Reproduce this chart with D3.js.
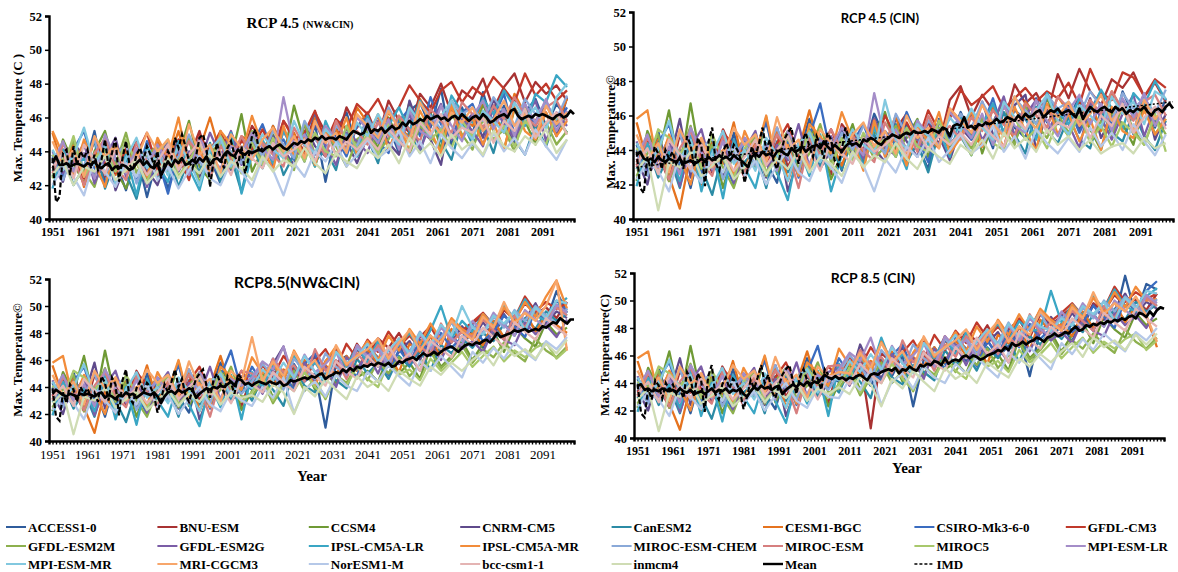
<!DOCTYPE html>
<html>
<head>
<meta charset="utf-8">
<script src="https://cdn.jsdelivr.net/npm/d3@7"></script>
<style>
  body { margin: 0; background: #fff; }
  svg text { font-family: "Liberation Serif", "Times New Roman", serif; }
</style>
</head>
<body>
<svg id="chart" width="1178" height="572"></svg>
<script>
// ---- data ----
var models = ["ACCESS1-0","BNU-ESM","CCSM4","CNRM-CM5","CanESM2","CESM1-BGC","CSIRO-Mk3-6-0","GFDL-CM3",
  "GFDL-ESM2M","GFDL-ESM2G","IPSL-CM5A-LR","IPSL-CM5A-MR","MIROC-ESM-CHEM","MIROC-ESM","MIROC5","MPI-ESM-LR",
  "MPI-ESM-MR","MRI-CGCM3","NorESM1-M","bcc-csm1-1","inmcm4"];
var colors = ["#2f5c9c","#a83232","#6f9a35","#5f4a8b","#2b8ba5","#e5731f","#3a6cc0","#c0392b",
  "#8db04e","#7b5da6","#3aa6c4","#f28c3a","#8aa9d8","#d67f7f","#a8c86c","#a48dc8",
  "#82c8df","#f7a66b","#b5c8e8","#e4b4b3","#cfdcb4"];
var tickYears = [1951,1961,1971,1981,1991,2001,2011,2021,2031,2041,2051,2061,2071,2081,2091];
var yTicks = [40,42,44,46,48,50,52];

// model values, 0.1 degC, every 3rd year: hist 1951-2005, future 2008-2098
var histYears = d3.range(1951, 2006, 3);
var futYears = d3.range(2008, 2099, 3);

var histNW = [
 [438,424,444,429,452,421,434,417,439,413,437,418,437,447,426,436,421,447,434],
 [436,441,428,445,433,425,440,432,446,427,441,429,447,436,452,431,444,450,437],
 [425,447,433,421,440,452,429,418,436,424,444,427,438,458,431,423,446,435,462],
 [431,422,445,437,426,448,417,433,440,429,420,438,446,431,425,441,434,429,447],
 [428,439,420,431,446,418,435,427,412,438,425,441,419,436,428,445,422,437,416],
 [451,430,444,419,437,448,426,440,433,421,446,434,452,427,441,460,438,432,449],
 [437,426,441,452,430,421,444,435,424,446,436,415,440,428,447,433,426,451,438],
 [430,441,436,424,448,433,427,442,438,451,429,444,437,423,449,440,452,436,446],
 [424,435,446,428,419,441,432,451,427,438,443,426,436,448,421,439,445,430,437],
 [440,427,433,445,421,436,448,425,441,419,437,446,428,440,433,451,437,452,432],
 [418,441,429,436,425,447,420,438,414,443,432,422,446,430,417,441,426,451,415],
 [452,438,426,447,433,419,444,430,439,425,448,436,460,429,441,427,452,444,438],
 [435,423,440,431,447,426,438,444,421,436,441,429,437,450,434,426,446,440,433],
 [427,444,436,420,439,447,431,423,445,434,426,440,432,446,438,424,443,435,449],
 [438,430,449,425,436,442,428,447,433,422,439,447,425,435,444,432,449,438,427],
 [433,446,428,439,424,450,436,427,442,431,444,433,441,426,448,437,430,443,439],
 [441,429,437,454,432,443,421,436,448,430,438,426,444,435,420,441,448,431,443],
 [446,432,441,425,449,437,444,428,435,451,440,447,431,456,438,444,427,450,442],
 [420,431,425,414,436,428,419,433,425,440,423,431,418,429,437,424,420,434,428],
 [430,439,424,444,435,427,441,430,437,426,434,444,429,438,446,431,439,426,443],
 [426,434,420,431,428,437,423,429,435,421,428,436,424,433,427,438,425,434,430]
];
var histCIN = [
 [443,428,451,424,440,418,446,431,425,450,428,445,433,421,449,437,458,436,444],
 [431,446,438,422,449,433,441,427,452,438,424,447,435,453,430,444,451,438,426],
 [422,451,436,463,427,467,431,445,418,439,446,430,459,426,441,434,452,447,423],
 [435,420,447,432,458,424,441,437,426,446,430,443,424,452,416,436,446,429,440],
 [429,442,424,437,418,445,430,414,439,425,433,440,418,445,427,436,450,431,442],
 [456,433,446,425,406,438,420,444,432,456,428,446,437,451,422,440,463,438,445],
 [440,429,444,455,431,452,426,442,435,420,447,439,456,431,445,424,448,467,437],
 [433,444,430,440,426,447,436,431,450,443,438,449,431,444,455,436,447,440,452],
 [425,438,449,422,436,454,429,443,430,418,438,447,425,441,451,429,438,455,433],
 [445,426,434,447,419,441,452,428,446,421,440,451,426,443,434,455,430,441,448],
 [419,444,427,439,422,448,416,440,412,446,430,418,444,427,411,442,425,449,416],
 [458,463,429,449,436,420,447,433,440,426,451,437,460,430,443,425,455,448,438],
 [438,425,443,433,450,428,441,447,423,438,444,431,439,453,436,428,449,443,435],
 [430,447,438,423,441,451,433,425,448,436,427,443,434,449,440,418,446,437,452],
 [441,432,452,447,438,445,430,449,435,424,441,449,427,436,447,433,451,440,429],
 [436,449,430,442,426,453,439,429,445,433,447,436,443,428,451,439,432,446,441],
 [444,431,440,457,434,446,423,438,451,432,440,428,447,437,422,444,450,433,445],
 [449,434,444,427,452,439,447,430,437,453,443,449,433,459,440,446,429,452,444],
 [423,433,428,416,438,430,421,436,427,442,425,434,420,431,440,427,422,437,430],
 [432,441,426,446,437,429,443,432,439,428,436,446,431,440,448,433,441,428,445],
 [428,436,405,433,430,439,425,431,437,423,430,438,426,435,429,440,427,436,432]
];
var fut45NW = [
 [450,433,455,439,450,434,456,422,452,463,441,462,445,455,439,464,469,454,477,443,466,450,475,454,467,451,463,471,455,468,460],
 [455,446,433,458,449,440,463,451,445,466,454,463,448,470,458,451,474,466,480,462,476,471,483,465,478,486,469,481,474,479,470],
 [428,441,450,436,467,445,431,452,438,447,440,455,442,460,447,469,450,463,441,470,456,447,468,452,441,465,458,444,470,451,462],
 [440,436,449,441,432,456,443,437,459,446,433,449,461,445,438,470,453,447,432,466,455,462,448,471,457,444,468,452,463,449,472],
 [443,430,447,426,438,452,434,441,429,455,437,448,433,457,444,451,439,462,446,435,458,444,455,439,462,447,438,456,443,460,451],
 [445,438,455,443,451,437,460,446,453,441,466,457,449,463,455,448,471,459,452,467,461,455,470,463,451,474,462,458,468,456,471],
 [444,456,439,447,435,450,463,442,448,437,455,460,446,439,458,465,449,472,456,448,463,468,452,460,474,449,463,457,470,455,466],
 [441,453,440,458,447,451,464,445,459,453,468,462,471,458,466,479,470,463,476,481,469,478,473,484,477,469,486,473,480,470,476],
 [452,434,446,440,429,457,438,450,443,431,447,452,440,447,461,438,455,449,441,463,450,441,459,447,453,440,466,448,457,444,452],
 [445,439,431,452,441,436,457,444,432,451,446,439,458,443,450,462,441,456,468,447,459,452,443,467,456,448,459,470,446,463,455],
 [438,447,433,452,440,446,431,458,444,450,437,461,447,455,466,452,470,458,449,473,463,457,471,462,476,466,455,474,469,485,478],
 [461,443,429,455,437,448,432,451,444,460,438,447,462,441,456,440,464,452,439,467,448,460,444,457,441,466,452,447,463,449,458],
 [448,437,452,444,436,458,447,440,455,449,443,459,450,466,454,447,468,461,453,470,462,466,458,472,463,455,471,462,468,459,473],
 [437,445,438,431,454,443,449,437,458,446,452,444,457,449,461,453,446,465,458,451,469,462,454,467,459,472,461,455,466,470,458],
 [445,432,448,438,445,434,451,440,437,455,441,450,438,457,445,441,460,447,453,442,458,449,461,446,455,443,458,451,444,462,450],
 [451,442,435,472,443,450,438,455,447,441,460,453,445,459,441,464,452,448,467,455,446,461,470,453,465,449,468,457,471,452,464],
 [436,450,441,436,458,444,439,453,446,440,457,449,462,451,444,466,457,449,461,470,455,447,464,458,451,469,459,466,453,472,480],
 [435,447,454,440,449,436,458,445,451,439,462,455,448,464,453,446,469,458,450,463,457,466,452,459,470,455,462,449,467,456,463],
 [419,436,429,414,433,425,440,434,445,431,438,447,436,441,452,437,446,433,450,442,436,445,437,451,440,448,438,453,443,435,447],
 [436,430,445,437,441,447,434,450,438,446,441,448,441,453,446,440,457,450,462,448,454,451,460,445,458,452,465,448,457,463,450],
 [423,437,428,435,431,442,433,427,439,434,430,441,436,444,433,448,439,445,437,450,441,446,438,452,443,440,449,444,453,439,447]
];
var fut45CIN = [
 [428,452,439,461,447,436,455,443,429,458,446,462,448,457,441,468,453,447,470,456,463,458,471,455,467,449,474,460,468,453,470],
 [455,447,440,458,444,452,461,448,456,443,469,477,459,472,463,455,478,467,473,461,484,470,487,474,466,481,476,485,471,479,468],
 [438,455,434,449,462,440,447,458,436,451,442,447,463,438,456,469,444,461,452,470,457,448,466,452,440,462,455,443,467,449,458],
 [451,437,448,441,433,459,445,436,457,448,434,453,446,468,449,441,466,472,440,463,455,467,452,470,447,459,465,450,472,446,461],
 [429,446,432,449,438,455,433,444,427,451,440,448,437,455,443,462,449,438,465,451,444,459,446,441,463,450,445,462,448,440,457],
 [431,449,438,455,443,460,436,452,447,441,464,457,450,442,465,455,447,468,460,453,471,462,456,469,451,474,463,458,470,455,466],
 [450,444,455,438,451,443,462,447,433,456,449,460,446,453,470,449,463,458,447,472,459,465,450,463,474,455,468,449,471,457,464],
 [437,450,445,441,460,448,456,444,463,451,458,475,466,471,477,464,470,476,468,474,470,479,466,487,473,469,485,482,471,481,476],
 [446,439,448,435,442,454,440,447,439,453,444,449,441,459,446,452,443,465,455,447,461,450,463,444,457,448,466,452,443,460,449],
 [436,447,435,458,441,437,452,446,439,457,443,451,462,446,455,471,448,460,469,450,462,455,441,468,459,446,461,472,448,465,454],
 [437,448,430,453,438,444,429,457,443,451,436,460,447,454,467,450,471,459,446,473,462,455,470,461,475,464,452,473,466,480,469],
 [462,446,428,457,436,450,431,453,445,462,438,447,463,442,456,441,465,451,440,467,449,461,445,458,440,465,451,447,463,449,458],
 [450,440,454,446,438,461,449,442,457,451,445,461,453,468,456,449,470,463,455,472,464,468,460,474,465,457,473,464,470,461,475],
 [440,448,440,433,456,445,451,439,460,448,454,446,459,451,463,455,448,467,460,453,471,464,456,469,461,474,463,457,468,472,460],
 [447,434,450,440,447,436,453,442,439,457,443,449,437,456,444,440,459,446,452,441,457,448,460,445,454,442,456,450,443,461,439],
 [453,445,437,473,446,452,440,457,449,443,462,455,447,461,443,466,454,450,469,457,448,463,472,455,467,451,470,459,473,454,466],
 [438,452,443,438,469,446,441,455,448,442,459,451,464,453,446,468,459,451,463,472,457,449,466,460,453,471,461,468,455,474,470],
 [437,449,456,442,451,438,460,447,453,441,464,457,450,466,455,448,471,460,452,465,459,468,454,461,472,457,464,451,469,458,465],
 [421,438,431,416,435,427,442,436,447,433,440,449,438,443,454,439,448,435,452,444,438,447,439,453,442,450,440,455,445,437,449],
 [438,432,447,439,443,449,436,452,440,448,443,450,443,455,448,442,459,452,464,450,456,453,462,447,460,454,467,450,459,465,452],
 [425,439,430,437,433,444,435,429,441,436,432,443,438,446,435,450,441,447,439,452,443,448,440,446,438,442,444,438,447,441,444]
];
var fut85NW = [
 [438,452,446,439,457,444,450,410,458,463,452,467,455,462,470,458,466,473,461,478,470,482,469,489,476,493,484,497,488,511,495],
 [449,436,455,447,462,451,443,459,468,455,472,461,476,469,480,466,477,485,471,489,480,487,493,481,497,490,502,494,499,491,503],
 [437,451,432,446,440,455,438,449,443,458,447,452,444,463,450,458,446,470,455,463,474,460,472,481,466,485,476,470,488,479,484],
 [446,439,457,470,441,452,463,447,456,450,468,459,471,455,466,474,460,478,467,473,485,475,488,477,494,483,490,502,487,496,491],
 [430,447,438,426,454,441,436,450,445,439,461,450,458,446,463,455,468,452,471,465,476,469,480,474,487,478,491,483,496,489,494],
 [444,458,441,453,447,460,442,456,449,463,452,468,457,464,451,472,466,478,461,483,474,480,471,489,477,485,496,481,493,486,480],
 [455,443,461,449,438,457,465,446,459,452,448,470,462,449,468,457,475,463,480,469,477,486,474,481,493,485,477,498,489,504,497],
 [441,456,448,463,452,445,459,468,454,472,461,475,466,481,470,478,469,484,476,490,482,488,495,486,499,491,507,496,503,498,502],
 [433,445,428,441,452,437,446,431,449,443,456,445,459,450,462,448,457,466,454,461,471,458,468,462,473,465,459,476,467,462,470],
 [448,435,452,440,446,458,443,455,440,462,453,465,450,468,457,463,452,472,460,477,468,474,466,483,475,471,488,479,486,477,490],
 [451,440,456,445,463,450,458,447,466,455,470,458,474,463,471,480,468,482,500,476,489,481,494,486,500,491,505,493,489,500,506],
 [462,450,458,444,467,453,441,459,470,456,463,474,460,478,467,483,472,487,475,491,483,478,494,485,499,488,503,492,507,519,498],
 [444,457,449,438,461,452,446,465,455,449,469,462,470,458,473,466,481,469,477,488,474,485,479,492,484,497,489,500,493,487,498],
 [450,443,461,451,456,444,468,452,460,446,465,456,471,463,476,458,470,464,487,473,481,477,490,482,475,493,484,498,491,499,493],
 [436,448,430,443,437,451,440,432,449,441,455,446,440,458,449,453,445,461,452,458,466,455,463,470,459,467,462,469,473,461,468],
 [447,459,453,470,446,464,451,457,466,449,471,463,468,455,474,462,479,468,484,476,471,489,480,495,486,478,497,490,484,501,495],
 [439,453,445,458,447,463,451,444,466,458,462,472,459,467,476,464,480,471,486,478,500,484,479,493,487,496,482,499,491,504,502],
 [477,444,459,448,466,452,460,446,471,457,463,468,476,461,473,482,467,478,472,489,481,475,492,484,503,487,495,489,500,519,467],
 [426,440,432,447,421,438,444,433,449,441,437,451,444,456,448,441,459,452,463,455,447,466,458,469,461,473,466,460,474,468,477],
 [442,436,451,443,437,455,448,441,459,452,446,463,455,470,458,465,452,474,468,462,478,471,484,477,470,488,481,475,491,484,478],
 [434,429,442,436,420,440,433,446,438,431,448,440,445,437,452,446,441,455,449,458,452,460,466,456,470,463,468,461,472,465,475]
];
var fut85CIN = [
 [441,456,449,438,452,445,460,423,457,466,454,468,456,463,471,459,467,474,445,479,471,483,470,490,478,494,486,518,489,512,508],
 [452,439,458,407,462,454,447,461,470,457,474,463,478,470,482,468,479,486,473,490,482,489,495,483,498,492,504,496,501,493,505],
 [440,454,435,449,443,458,441,452,446,461,450,455,447,466,453,461,449,473,458,466,477,463,475,484,469,488,479,473,491,482,487],
 [449,442,468,451,444,455,466,450,459,453,471,462,474,458,469,477,463,481,470,476,488,478,491,480,497,486,493,505,490,499,494],
 [433,450,441,429,457,444,439,453,448,442,464,453,461,449,466,458,471,455,474,468,479,472,483,477,490,481,494,486,499,492,497],
 [447,461,444,456,450,463,445,459,452,466,455,471,460,467,454,475,469,481,464,486,477,483,474,492,480,488,499,484,496,489,466],
 [458,446,464,452,441,460,468,449,462,455,451,473,465,452,471,460,478,466,483,472,480,489,477,484,496,488,480,501,492,507,514],
 [444,459,451,466,455,448,462,471,457,475,464,478,469,484,473,481,472,487,479,493,485,491,498,489,502,494,510,499,506,501,505],
 [436,448,431,444,455,440,449,434,452,446,459,448,462,453,465,451,460,469,457,464,474,461,471,465,476,468,462,479,470,465,473],
 [451,438,455,443,449,461,446,458,443,465,456,468,453,471,460,466,455,475,463,480,471,477,469,486,478,474,491,482,489,480,493],
 [454,443,459,448,473,453,461,450,469,458,473,461,477,466,474,483,471,485,478,479,507,484,497,489,503,494,508,496,492,503,509],
 [465,453,461,447,470,456,444,462,473,459,466,477,463,481,470,486,475,490,478,494,486,481,497,488,502,491,506,495,510,500,501],
 [447,460,452,441,464,455,449,468,458,452,472,465,473,461,476,469,484,472,480,491,477,488,482,495,487,500,492,503,496,490,501],
 [453,446,464,454,459,447,471,455,463,449,468,459,474,466,479,461,473,467,490,476,484,480,493,485,478,496,487,501,494,502,496],
 [439,451,433,446,440,454,443,435,452,444,458,449,443,461,452,456,448,464,455,461,469,458,466,473,462,470,465,472,476,464,471],
 [450,462,456,473,449,467,454,460,469,452,474,466,471,458,477,465,482,471,487,479,474,492,483,498,489,481,500,493,487,504,498],
 [442,456,448,461,450,466,454,447,469,461,465,475,462,470,479,467,483,474,489,481,478,487,482,496,490,499,485,502,494,507,505],
 [448,447,462,451,469,455,463,449,474,460,466,471,479,464,476,485,470,481,475,492,484,478,495,487,506,490,498,492,503,489,470],
 [429,443,435,450,424,441,447,436,452,444,440,454,447,459,451,444,462,455,466,458,450,469,461,472,464,476,469,463,477,471,480],
 [445,439,454,446,440,458,451,444,462,455,449,466,458,473,461,468,455,477,471,465,481,474,487,480,473,491,484,478,494,487,481],
 [437,432,445,439,423,443,436,449,441,434,451,443,448,440,455,449,444,458,452,461,455,463,469,459,473,466,471,464,475,468,476]
];

// multi-model mean, yearly 1951-2100
var meanYears = d3.range(1951, 2101);
var mean45NW = [43.3,43.7,43.2,43.2,43.3,43.1,43.2,43.3,43.2,43.1, 43.3,43.2,43.4,43.1,43.0,43.2,43.3,42.9,43.1,43.0,
 43.2,43.1,42.9,43.0,43.3,43.5,43.2,43.4,43.1,43.0, 43.3,42.6,43.0,43.4,43.1,43.5,43.3,43.6,43.2,43.3,
 43.5,43.3,43.6,43.4,43.7,43.2,43.5,43.6,43.4,43.8, 44.0,43.8,43.7,44.1,43.9,43.8,44.0,43.9,44.0,44.1,
 44.0,44.2,44.3,44.1,44.3,44.4,44.2,44.1,44.3,44.5, 44.4,44.6,44.5,44.7,44.6,44.8,44.7,44.9,44.7,44.8,
 44.8,44.7,44.9,44.8,44.7,45.0,45.2,45.1,45.0,45.1, 45.6,45.1,45.3,45.2,45.4,45.1,45.3,45.5,45.3,45.4,
 45.7,45.5,45.8,45.6,45.7,45.9,45.8,46.1,45.9,46.0, 46.1,45.9,46.0,45.8,46.0,46.1,45.9,46.2,46.0,45.8,
 46.0,46.1,45.9,46.2,46.0,45.7,45.8,46.0,46.1,46.2, 46.0,46.4,46.5,46.1,45.9,46.0,46.1,46.0,46.2,46.1,
 46.2,46.1,46.0,45.9,46.1,46.2,46.0,46.1,46.4,46.2];
var mean45CIN = [43.7,43.9,43.5,43.4,43.5,43.3,43.6,43.4,43.3,43.5, 43.4,43.3,43.5,43.2,43.3,43.4,43.2,43.3,43.5,43.3,
 43.6,43.4,43.5,43.7,43.5,43.6,43.4,43.7,43.5,43.4, 43.2,43.0,43.6,43.8,43.6,43.9,43.7,43.8,43.6,43.9,
 44.0,43.8,43.7,44.1,43.9,44.0,44.2,43.9,44.1,44.2, 44.3,44.1,44.5,44.2,44.0,44.3,44.1,43.9,44.2,44.4,
 44.3,44.4,44.2,44.6,44.5,44.7,44.6,44.4,44.3,44.6, 44.7,44.9,44.8,44.7,44.9,45.0,44.9,45.1,45.0,45.0,
 45.1,45.0,45.2,45.1,45.0,45.3,45.2,44.8,45.4,45.5, 45.4,45.9,45.3,45.4,45.2,45.5,45.4,45.6,45.5,45.6,
 45.8,45.6,45.7,45.9,45.8,45.7,46.0,45.8,46.1,45.9, 46.0,46.2,46.3,45.9,46.1,46.3,46.2,46.4,46.1,46.2,
 46.3,46.1,45.9,46.4,45.8,46.2,46.5,46.3,46.2,46.4, 46.5,46.3,46.2,46.5,46.3,46.4,46.1,46.3,46.2,46.4,
 46.3,46.5,46.2,46.0,46.3,46.4,46.2,46.5,46.7,46.4];
var mean85NW = [43.5,43.8,43.6,43.4,43.3,43.5,43.4,43.3,43.5,43.4, 43.5,43.4,43.3,43.5,43.6,43.2,43.4,43.3,43.1,43.4,
 43.3,43.6,43.4,43.5,43.2,43.4,43.6,43.5,43.4,43.6, 43.3,42.8,43.3,43.6,43.7,43.5,43.8,43.6,43.7,43.9,
 43.8,43.2,43.5,43.7,43.9,43.8,44.0,43.9,44.1,44.0, 44.2,44.4,44.1,44.6,44.5,44.2,44.3,44.1,44.3,44.4,
 44.3,44.2,44.4,44.3,44.2,44.4,44.1,44.2,44.5,44.4, 44.5,44.6,44.7,44.6,44.8,44.7,44.9,45.0,44.6,44.8,
 44.9,45.1,45.0,45.3,45.1,45.4,45.2,45.5,45.4,45.6, 45.5,45.7,45.6,45.8,45.7,45.6,45.8,45.5,45.6,45.9,
 45.8,46.0,46.1,46.2,46.0,46.3,46.5,46.3,46.4,46.6, 46.4,46.6,46.8,46.9,47.0,46.8,46.6,46.9,47.1,47.2,
 47.1,47.3,47.2,47.4,47.5,47.3,47.6,48.0,47.7,47.8, 47.9,48.0,48.2,48.1,48.2,48.3,48.1,48.2,48.3,48.2,
 48.5,48.4,48.6,48.8,48.7,49.1,48.9,48.7,49.0,49.0];
var mean85CIN = [43.8,43.9,43.5,43.6,43.4,43.5,43.4,43.6,43.5,43.4, 43.5,43.3,43.6,43.4,43.3,43.5,43.2,43.3,43.4,43.2,
 43.4,43.6,43.3,43.5,43.4,43.6,43.3,43.5,43.4,43.6, 43.2,43.0,43.4,43.7,43.5,43.8,43.6,43.7,43.5,43.7,
 43.8,43.2,43.5,43.7,43.9,43.7,44.0,43.8,44.1,43.9, 44.1,44.0,44.3,44.6,44.4,44.3,44.5,44.3,44.4,44.2,
 44.4,44.3,44.5,44.6,44.4,44.2,44.6,44.7,44.6,44.8, 44.9,45.0,44.9,45.1,44.7,45.0,44.9,45.2,45.0,44.9,
 45.3,45.2,45.4,45.3,45.6,45.5,45.3,45.8,45.4,45.6, 45.7,45.6,45.9,46.0,45.8,46.0,45.9,45.7,45.8,46.0,
 46.1,46.2,46.4,46.3,46.6,46.4,46.9,46.7,46.8,47.0, 46.8,47.0,47.1,47.3,47.2,47.0,47.3,47.4,47.6,47.4,
 47.5,47.7,47.6,47.9,48.1,47.8,47.9,48.2,48.1,48.3, 48.2,48.4,48.3,48.5,48.4,48.6,48.5,48.7,48.6,48.8,
 48.9,48.7,49.1,49.0,48.8,49.2,48.9,49.3,49.5,49.4];

// IMD observations 1951-2011
var imdYears = d3.range(1951, 2012);
var imdNW = [43.6,41.0,41.3,43.9,44.1,42.6,44.3,43.2,44.0,43.6, 44.1,43.0,43.8,42.9,43.5,44.7,43.1,43.9,44.8,42.2,
 43.6,44.6,43.2,42.9,43.8,44.2,43.5,44.3,43.8,43.2, 44.0,42.4,43.3,44.0,43.6,44.8,44.2,45.0,44.3,43.4,
 43.0,43.7,44.8,45.0,44.2,41.9,43.4,44.5,43.6,43.0, 44.2,44.6,43.8,43.2,44.3,42.7,43.6,44.9,45.3,44.0,44.2];
var imdCIN = [43.9,41.8,41.5,43.6,42.8,44.2,43.8,42.9,44.0,43.5, 43.9,43.2,43.6,42.9,44.8,44.3,43.0,44.7,44.2,41.9,
 44.5,45.3,43.2,42.8,43.9,44.4,43.6,44.3,44.0,43.4, 42.1,43.0,44.2,43.6,44.4,45.3,44.0,44.6,43.4,42.9,
 43.8,44.6,45.0,45.3,44.1,43.2,44.5,45.0,44.2,43.6, 44.8,44.3,43.5,45.0,44.6,43.4,43.1,44.0,45.3,44.6,44.2];

// linear trend shown in RCP 4.5 (CIN)
var trendYears = [1951, 2100];
var trend45CIN = [43.0, 46.8];

// ---- layout ----
var panels = [
  {hist: histNW, fut: fut45NW, mean: mean45NW, imd: imdNW, imdEnd: 2011,
   axisX: 49, xEnd: 574, yTop: 16, yBot: 219,
   ytitle: "Max. Temperature (C )", ytx: 22, yty: 118, bigLabels: false},
  {hist: histCIN, fut: fut45CIN, mean: mean45CIN, imd: imdCIN, imdEnd: 2011, trend: trend45CIN,
   axisX: 633, xEnd: 1173, yTop: 12, yBot: 219,
   ytitle: "Max. Temperature\u00a9", ytx: 615, yty: 132, bigLabels: false},
  {hist: histCIN, fut: fut85NW, mean: mean85NW, imd: imdCIN, imdEnd: 2005,
   axisX: 49, xEnd: 574, yTop: 279, yBot: 441,
   ytitle: "Max. Temperature\u00a9", ytx: 22, yty: 360, bigLabels: true, year: [312, 481]},
  {hist: histCIN, fut: fut85CIN, mean: mean85CIN, imd: imdCIN, imdEnd: 2005,
   axisX: 634, xEnd: 1164, yTop: 273, yBot: 438,
   ytitle: "Max. Temperature(C)", ytx: 609, yty: 355, bigLabels: false, year: [907, 473]}
];

var svg = d3.select("#chart");

panels.forEach(function(p) {
  var x = d3.scaleLinear().domain([1950, 2100]).range([p.axisX, p.xEnd]);
  var y = d3.scaleLinear().domain([40, 52]).range([p.yBot, p.yTop]);
  var line = d3.line().x(function(d) { return x(d[0]); }).y(function(d) { return y(d[1]); });
  var g = svg.append("g");

  // model lines
  models.forEach(function(m, i) {
    var yrs = histYears.concat(futYears);
    var vals = p.hist[i].concat(p.fut[i]);
    g.append("path")
      .datum(yrs.map(function(yr, j) { return [yr, vals[j] / 10]; }))
      .attr("d", line)
      .attr("fill", "none")
      .attr("stroke", colors[i])
      .attr("stroke-width", 2.3)
      .attr("stroke-linejoin", "round");
  });

  // trend (dotted)
  if (p.trend) {
    g.append("path")
      .datum(trendYears.map(function(yr, j) { return [yr, p.trend[j]]; }))
      .attr("d", line)
      .attr("fill", "none").attr("stroke", "#000")
      .attr("stroke-width", 1.5).attr("stroke-dasharray", "2,2");
  }

  // mean
  g.append("path")
    .datum(meanYears.map(function(yr, j) { return [yr, p.mean[j]]; }))
    .attr("d", line)
    .attr("fill", "none").attr("stroke", "#000")
    .attr("stroke-width", 2.7).attr("stroke-linejoin", "round");

  // IMD
  g.append("path")
    .datum(imdYears.filter(function(yr) { return yr <= p.imdEnd; })
      .map(function(yr, j) { return [yr, p.imd[j]]; }))
    .attr("d", line)
    .attr("fill", "none").attr("stroke", "#000")
    .attr("stroke-width", 2.2).attr("stroke-dasharray", "5,2.5");

  // y axis
  var ya = g.append("g").attr("transform", "translate(" + p.axisX + ",0)")
    .call(d3.axisLeft(y).tickValues(yTicks).tickSize(4).tickPadding(3));
  ya.select(".domain").attr("stroke-width", 2.4);
  ya.selectAll("line").attr("stroke-width", 1.5);
  ya.selectAll("text").attr("font-size", 12.5).attr("font-weight", "bold")
    .style("font-family", "Liberation Serif");

  // x axis: yearly minor ticks, labels every 10 years
  var xa = g.append("g").attr("transform", "translate(0," + p.yBot + ")")
    .call(d3.axisBottom(x).tickValues(meanYears).tickSize(3.5).tickFormat(""));
  xa.select(".domain").attr("stroke-width", 2.4);
  xa.selectAll("line").attr("stroke-width", 1.4);
  var xl = g.append("g").attr("transform", "translate(0," + p.yBot + ")")
    .call(d3.axisBottom(x).tickValues(tickYears).tickSize(0).tickPadding(p.bigLabels ? 9 : 8).tickFormat(d3.format("d")));
  xl.select(".domain").remove();
  xl.selectAll("text")
    .attr("font-size", p.bigLabels ? 13 : 12)
    .attr("font-weight", p.bigLabels ? "normal" : "bold")
    .style("font-family", "Liberation Serif");

  // axis titles
  g.append("text")
    .attr("transform", "translate(" + p.ytx + "," + p.yty + ") rotate(-90)")
    .attr("text-anchor", "middle")
    .attr("font-size", 13).attr("font-weight", "bold")
    .text(p.ytitle);
  if (p.year) {
    g.append("text").attr("x", p.year[0]).attr("y", p.year[1])
      .attr("text-anchor", "middle").attr("font-size", 15).attr("font-weight", "bold")
      .text("Year");
  }
});

// panel titles
var t1 = svg.append("text").attr("x", 300).attr("y", 28).attr("text-anchor", "middle")
  .attr("font-weight", "bold");
t1.append("tspan").attr("font-size", 15).text("RCP 4.5 ");
t1.append("tspan").attr("font-size", 10).text("(NW&CIN)");
svg.append("text").attr("x", 880).attr("y", 23).attr("text-anchor", "middle")
  .style("font-family", "Lato").attr("font-size", 13).attr("font-weight", "bold").text("RCP 4.5 (CIN)");
svg.append("text").attr("x", 297).attr("y", 288).attr("text-anchor", "middle")
  .style("font-family", "Lato").attr("font-size", 15.5).attr("font-weight", "bold").text("RCP8.5(NW&CIN)");
svg.append("text").attr("x", 873).attr("y", 283).attr("text-anchor", "middle")
  .style("font-family", "Lato").attr("font-size", 14).attr("font-weight", "bold").text("RCP 8.5 (CIN)");

// legend
var legendRows = [527, 546, 564];
var legendItems = models.map(function(m, i) { return {name: m, color: colors[i], w: 2}; })
  .concat([{name: "Mean", color: "#000", w: 2.4}, {name: "IMD", color: "#000", w: 1.6, dash: "3,2"}]);
var lg = svg.append("g");
legendItems.forEach(function(d, i) {
  var col = i % 8, row = Math.floor(i / 8);
  var lx = 6 + col * 151.4, ly = legendRows[row];
  lg.append("line").attr("x1", lx).attr("x2", lx + 20).attr("y1", ly).attr("y2", ly)
    .attr("stroke", d.color).attr("stroke-width", d.w)
    .attr("stroke-dasharray", d.dash || null);
  lg.append("text").attr("x", lx + 22).attr("y", ly + 4.5)
    .attr("font-size", 13).attr("font-weight", "bold").text(d.name);
});
</script>
</body>
</html>
